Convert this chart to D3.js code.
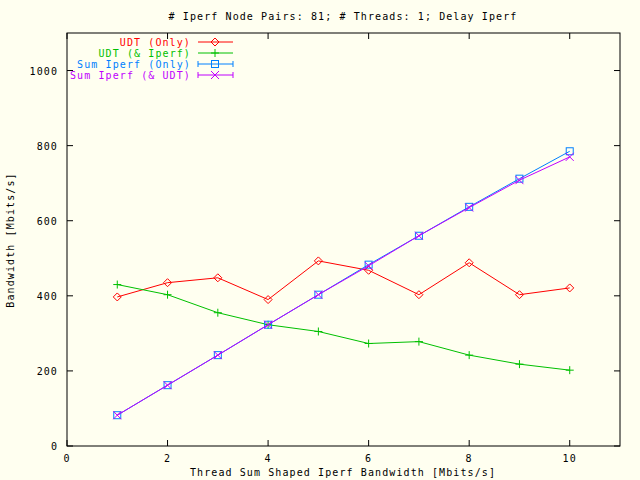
<!DOCTYPE html>
<html><head><meta charset="utf-8">
<script src="https://cdn.jsdelivr.net/npm/d3@7"></script>
<style>body{margin:0;background:#fffff0}text{font-family:"DejaVu Sans Mono",monospace;font-size:10px;letter-spacing:1.1px}</style>
</head><body><svg id="c" width="640" height="480"></svg>
<script>
const xs = [1,2,3,4,5,6,7,8,9,10];
const udtOnly = [397,435,448,390,493,468,403,488,403,421];
const udtIperf = [430,403,355,323,305,273,278,242,218,202];
const iperfOnly = [82,162,242,323,403,483,560,637,712,785];
const iperfUdt = [82,162,242,323,403,480,560,635,708,770];
const xTicks = [0,2,4,6,8,10];
const yTicks = [0,200,400,600,800,1000];

const svg = d3.select("#c");
svg.append("rect").attr("width",640).attr("height",480).attr("fill","#fffff0");
const x = d3.scaleLinear().domain([0,11]).range([67,620]);
const y = d3.scaleLinear().domain([0,1100]).range([446,33]);

svg.append("rect").attr("x",67).attr("y",33).attr("width",553).attr("height",413)
  .attr("fill","none").attr("stroke","#000");
const tick = 6;
xTicks.forEach(t => {
  svg.append("line").attr("x1",x(t)).attr("x2",x(t)).attr("y1",446).attr("y2",446-tick).attr("stroke","#000");
  svg.append("line").attr("x1",x(t)).attr("x2",x(t)).attr("y1",33).attr("y2",33+tick).attr("stroke","#000");
  svg.append("text").attr("x",x(t)).attr("y",462).attr("text-anchor","middle").text(t);
});
yTicks.forEach(t => {
  svg.append("line").attr("x1",67).attr("x2",67+tick).attr("y1",y(t)).attr("y2",y(t)).attr("stroke","#000");
  svg.append("line").attr("x1",620).attr("x2",620-tick).attr("y1",y(t)).attr("y2",y(t)).attr("stroke","#000");
  svg.append("text").attr("x",58).attr("y",y(t)+4).attr("text-anchor","end").text(t);
});
svg.append("text").attr("x",343).attr("y",20).attr("text-anchor","middle").text("# Iperf Node Pairs: 81; # Threads: 1; Delay Iperf");
svg.append("text").attr("x",343).attr("y",476).attr("text-anchor","middle").text("Thread Sum Shaped Iperf Bandwidth [Mbits/s]");
svg.append("text").attr("transform","translate(14,240) rotate(-90)").attr("text-anchor","middle").text("Bandwidth [Mbits/s]");

function marker(g, kind, cx, cy, col) {
  if (kind === "diamond") g.append("path").attr("d",`M${cx-4},${cy}L${cx},${cy-4}L${cx+4},${cy}L${cx},${cy+4}Z`).attr("fill","none").attr("stroke",col);
  if (kind === "plus") g.append("path").attr("d",`M${cx-4},${cy}H${cx+4}M${cx},${cy-4}V${cy+4}`).attr("stroke",col);
  if (kind === "square") g.append("rect").attr("x",cx-3.5).attr("y",cy-3.5).attr("width",7).attr("height",7).attr("fill","none").attr("stroke",col);
  if (kind === "cross") g.append("path").attr("d",`M${cx-4},${cy-4}L${cx+4},${cy+4}M${cx-4},${cy+4}L${cx+4},${cy-4}`).attr("stroke",col);
}
const series = [
  {name:"UDT (Only)", vals:udtOnly, col:"#ff0000", m:"diamond", caps:false},
  {name:"UDT (& Iperf)", vals:udtIperf, col:"#00c000", m:"plus", caps:false},
  {name:"Sum Iperf (Only)", vals:iperfOnly, col:"#0080ff", m:"square", caps:true},
  {name:"Sum Iperf (& UDT)", vals:iperfUdt, col:"#c000ff", m:"cross", caps:true}
];
const line = d3.line().x((d,i)=>x(xs[i])).y(d=>y(d));
series.forEach((s,k) => {
  const g = svg.append("g");
  g.append("path").attr("d",line(s.vals)).attr("fill","none").attr("stroke",s.col);
  s.vals.forEach((v,i)=>marker(g,s.m,x(xs[i]),y(v),s.col));
  const ly = 42 + k*11;
  svg.append("text").attr("x",191).attr("y",ly+4).attr("text-anchor","end").attr("fill",s.col).text(s.name);
  svg.append("line").attr("x1",198).attr("x2",233).attr("y1",ly).attr("y2",ly).attr("stroke",s.col);
  if (s.caps) [198,233].forEach(cx=>svg.append("line").attr("x1",cx).attr("x2",cx).attr("y1",ly-3).attr("y2",ly+3).attr("stroke",s.col));
  marker(svg,s.m,215,ly,s.col);
});
</script></body></html>
